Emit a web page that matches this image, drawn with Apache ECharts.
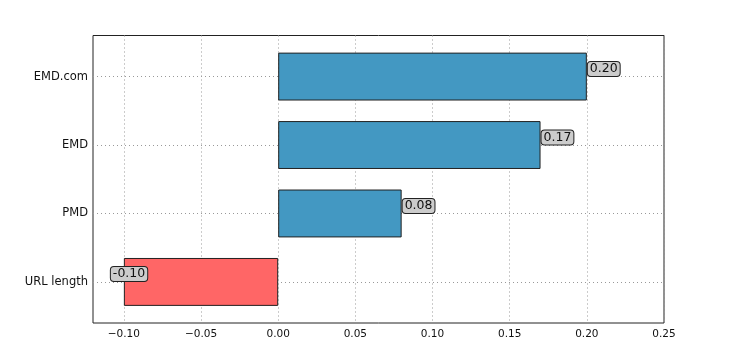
<!DOCTYPE html>
<html><head><meta charset="utf-8">
<script src="https://cdn.jsdelivr.net/npm/echarts@6/dist/echarts.min.js"></script>
<style>html,body{margin:0;padding:0;background:#fff}#c{width:738px;height:359px}</style>
</head><body><div id="c"></div>
<script>
const categories = ['URL length', 'PMD', 'EMD', 'EMD.com'];
const values = [-0.10, 0.08, 0.17, 0.20];
const xTicks = [-0.10, -0.05, 0.00, 0.05, 0.10, 0.15, 0.20, 0.25];
const yTicks = [0, 1, 2, 3];

const font = 'DejaVu Sans';
const posColor = '#4398c2', negColor = '#ff6666';
const L = 93, R = 738 - 664, T = 35.5, B = 359 - 323;
const band = (323 - 35.5) / 4.2;
const pad = band * 0.1;

const chart = echarts.init(document.getElementById('c'));
chart.setOption({
  animation: false,
  grid: [
    {left: L, right: R, top: T, bottom: B, show: true, borderColor: '#222', borderWidth: 1, containLabel: false},
    {left: L, right: R, top: T + pad, bottom: B + pad, containLabel: false}
  ],
  xAxis: [
    {gridIndex: 0, type: 'value', min: -0.12, max: 0.25,
      axisLine: {show: false},
      axisTick: {show: false, customValues: xTicks},
      axisLabel: {customValues: xTicks, fontFamily: font, fontSize: 10.5, color: '#111', margin: 6,
        formatter: v => (v < 0 ? '\u2212' : '') + Math.abs(v).toFixed(2)},
      splitLine: {show: true, lineStyle: {type: [1, 3], color: '#999', width: 1}}},
    {gridIndex: 1, type: 'value', min: -0.12, max: 0.25, show: false}
  ],
  yAxis: [
    {gridIndex: 0, type: 'value', min: -0.6, max: 3.6,
      axisLine: {show: false},
      axisTick: {show: false, customValues: yTicks},
      axisLabel: {customValues: yTicks, fontFamily: font, fontSize: 11.5, color: '#111', margin: 5,
        formatter: v => categories[Math.round(v)] || ''},
      splitLine: {show: true, lineStyle: {type: [1, 3], color: '#999', width: 1}}},
    {gridIndex: 1, type: 'category', data: categories, show: false}
  ],
  series: [{
    type: 'bar', xAxisIndex: 1, yAxisIndex: 1, barWidth: '70%',
    data: values.map(v => ({
      value: v,
      itemStyle: {color: v < 0 ? negColor : posColor, borderColor: '#222', borderWidth: 1},
      label: v < 0 ? {position: 'insideLeft', distance: 0, offset: [-13, -8]} : {position: 'right', distance: 1, offset: [0, -7.5]}
    })),
    label: {show: true, fontFamily: font, fontSize: 12.5, color: '#111',
      formatter: p => (p.value < 0 ? '-' : '') + Math.abs(p.value).toFixed(2),
      backgroundColor: '#cccccc', borderColor: '#222', borderWidth: 1, borderRadius: 3, padding: [1, 2, 0, 2]}
  }]
});
</script></body></html>
